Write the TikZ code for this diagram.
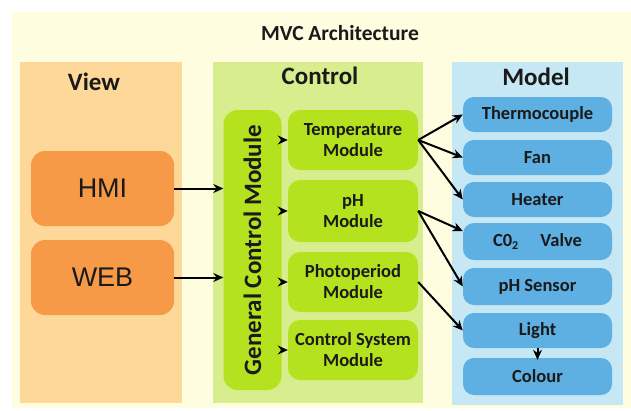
\documentclass[tikz,border=0pt]{standalone}
\usepackage{fontspec}
\setmainfont{Carlito}
\newfontfamily\arialfont{Liberation Sans}
\usetikzlibrary{arrows.meta}

\definecolor{bgyellow}{HTML}{FEFDE0}
\definecolor{viewpanel}{HTML}{FDD898}
\definecolor{viewfill}{HTML}{F79A48}
\definecolor{ctrlpanel}{HTML}{D8EE8E}
\definecolor{ctrlfill}{HTML}{B5E21F}
\definecolor{modelpanel}{HTML}{C6E8F5}
\definecolor{modelfill}{HTML}{5EAFE2}
\definecolor{inktext}{HTML}{1A1A1A}

\tikzset{
	paneltitle/.style={text=inktext, font=\bfseries\fontsize{25}{25}\selectfont},
	viewbox/.style={fill=viewfill, rounded corners=14pt, minimum width=143pt, minimum height=75pt, inner sep=0pt, text=inktext, font=\arialfont\fontsize{27}{27}\selectfont},
	modbox/.style={fill=ctrlfill, rounded corners=12pt, minimum width=130pt, minimum height=60pt, inner sep=0pt, align=center, text=inktext, font=\bfseries\fontsize{18.5}{21}\selectfont},
	partbox/.style={fill=modelfill, rounded corners=11pt, minimum width=149pt, minimum height=35pt, inner sep=0pt, text=inktext, font=\bfseries\fontsize{18.5}{18.5}\selectfont},
	link/.style={-{Stealth[length=10pt,width=9pt]}, line width=2pt, draw=black},
}

\begin{document}
\begin{tikzpicture}[x=1pt, y=-1pt]
	%%%%% START %%%%%
	\useasboundingbox (0, 0) rectangle (631, 410);
	\fill[white] (0, 0) rectangle (631, 410);
	\fill[bgyellow] (12, 12) rectangle (631, 408);
	\node[text=inktext, font=\bfseries\fontsize{21.5}{21.5}\selectfont] (title) at (340, 33) {MVC Architecture};
	
	% panels
	\fill[viewpanel] (20, 62) rectangle (182, 403);
	\fill[ctrlpanel] (213, 62) rectangle (423, 403);
	\fill[modelpanel] (452, 62) rectangle (623, 405);
	\node[paneltitle] (viewtitle) at (94, 82) {View};
	\node[paneltitle] (ctrltitle) at (320, 76) {Control};
	\node[paneltitle] (modeltitle) at (536, 77) {Model};
	
	% view
	\node[viewbox] (hmi) at (102.5, 188.5) {HMI};
	\node[viewbox] (web) at (102.5, 277.5) {WEB};
	
	% control
	\node[fill=ctrlfill, rounded corners=14pt, minimum width=280pt, minimum height=58pt, inner sep=0pt, rotate=90, text=inktext, font=\bfseries\fontsize{25}{25}\selectfont] (gcm) at (252.5, 250) {General Control Module};
	\node[modbox] (temp) at (353, 140) {Temperature\\Module};
	\node[modbox, minimum height=62pt] (ph) at (353, 211) {pH\\Module};
	\node[modbox] (photo) at (353, 282) {Photoperiod\\Module};
	\node[modbox] (csm) at (353, 350) {Control System\\Module};
	
	% model
	\node[partbox] (thermo) at (537.5, 114.5) {Thermocouple};
	\node[partbox] (fan) at (537.5, 157.5) {Fan};
	\node[partbox] (heater) at (537.5, 199.5) {Heater};
	\node[partbox, minimum height=37pt] (valve) at (537.5, 241.5) {C0\raisebox{-0.15em}{\fontsize{12}{12}\selectfont 2}\hspace{1.2em}Valve};
	\node[partbox, minimum height=37pt] (phsensor) at (537.5, 286.5) {pH Sensor};
	\node[partbox] (light) at (537.5, 330.5) {Light};
	\node[partbox, minimum height=37pt] (colour) at (537.5, 376.5) {Colour};
	
	% arrows
	\draw[link] (hmi.east) -- (gcm.north |- hmi.east);
	\draw[link] (web.east) -- (gcm.north |- web.east);
	\draw[link] (gcm.south |- temp.west) -- (temp.west);
	\draw[link] (gcm.south |- ph.west) -- (ph.west);
	\draw[link] (gcm.south |- photo.west) -- (photo.west);
	\draw[link] (gcm.south |- csm.west) -- (csm.west);
	\draw[link] (temp.east) -- (thermo.west);
	\draw[link] (temp.east) -- (fan.west);
	\draw[link] (temp.east) -- (heater.west);
	\draw[link] (ph.east) -- (valve.172);
	\draw[link] (ph.east) -- (phsensor.west);
	\draw[link] (photo.east) -- (light.west);
	\draw[link, shorten >=-2pt] (light.south) -- (colour.north);
	%%%%% END %%%%%
\end{tikzpicture}
\end{document}
